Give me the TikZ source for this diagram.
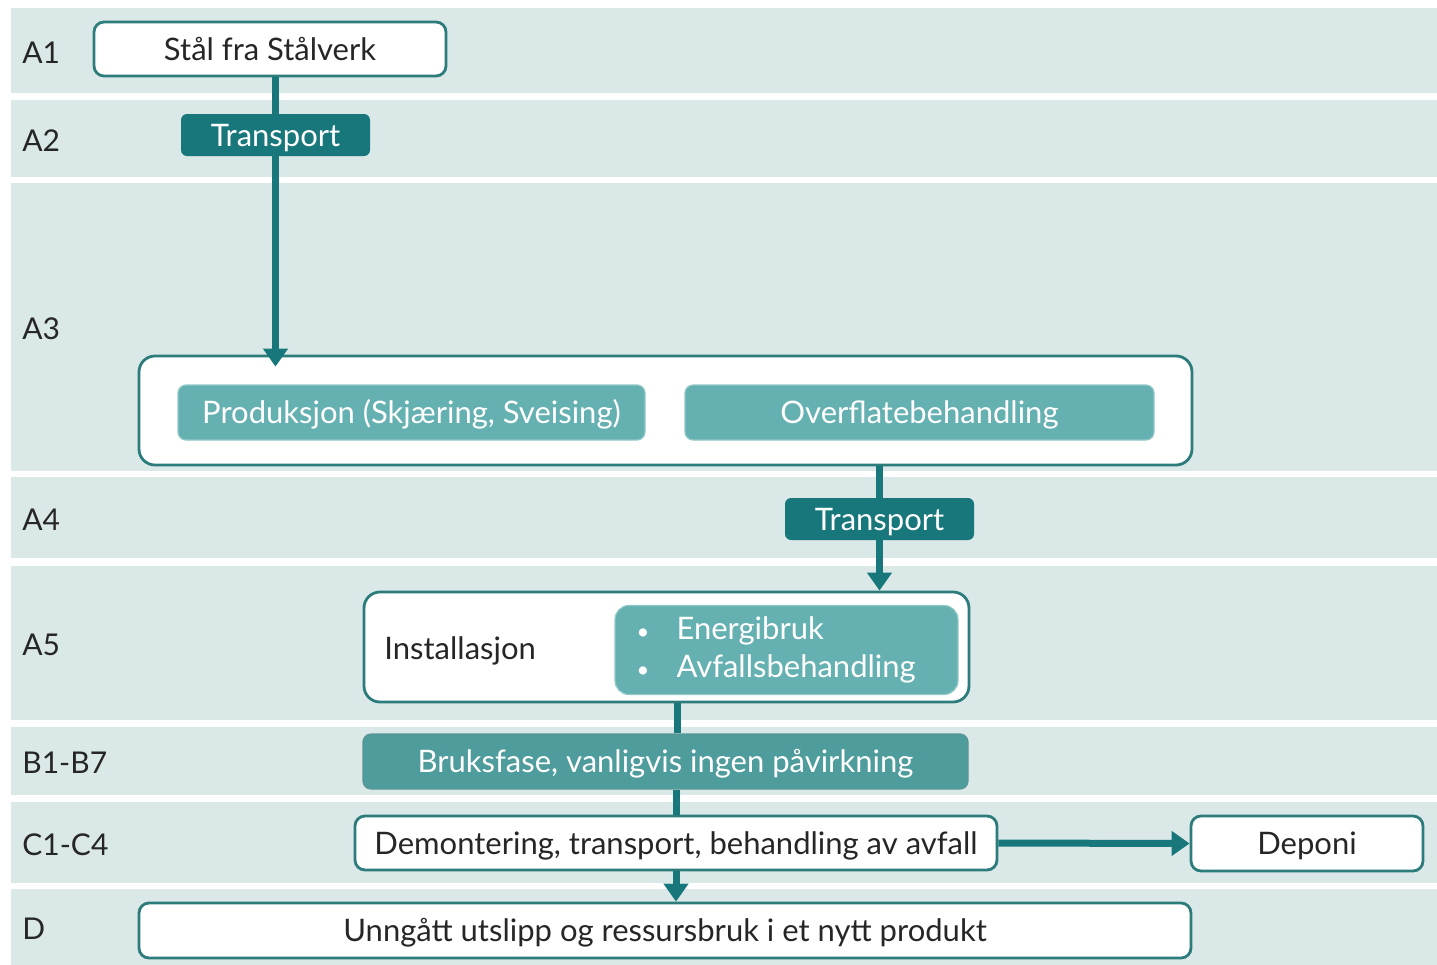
\documentclass[tikz,border=0pt]{standalone}
\usepackage{fontspec}
\setmainfont{Lato}
\usetikzlibrary{arrows.meta}
\definecolor{band}{HTML}{DAE8E8}
\definecolor{darkteal}{HTML}{17777A}
\definecolor{midteal}{HTML}{65B0B1}
\definecolor{usephase}{HTML}{4E9C9B}
\definecolor{boxline}{HTML}{2D7C7C}
\begin{document}
\begin{tikzpicture}[x=0.5pt,y=-0.5pt,
    rowlab/.style={anchor=west,inner sep=0pt,text=black!85,font=\fontsize{15}{18}\selectfont},
    boxtext/.style={inner sep=0pt,text height=13pt,text depth=2pt,font=\fontsize{15.5}{18}\selectfont},
    whitebox/.style={boxtext,draw=boxline,line width=1.4pt,fill=white,rounded corners=5pt,text=black!85},
    transbox/.style={boxtext,fill=darkteal,rounded corners=3pt,text=white,
      minimum width=94.5pt,minimum height=21pt},
    stepbox/.style={boxtext,fill=midteal,draw=midteal!70!white,line width=0.6pt,rounded corners=4pt,text=white},
    conn/.style={draw=darkteal,line width=3.5pt},
    arr/.style={conn,-{Triangle[width=12pt,length=9pt]}}]
\useasboundingbox (0,0) rectangle (1437,965);
% rows
\foreach \ytop/\ybot/\lab in {8/93/A1,100/177/A2,183/471/A3,477/558/A4,566/720/A5,727/795/B1-B7,802/883/C1-C4,889/965/D}{
  \fill[band] (11,\ytop) rectangle (1437,\ybot);
  \node[rowlab] (lab-\lab) at (22,{(\ytop+\ybot)/2+2}) {\lab};
}
% A1 - A3
\node[whitebox,minimum width=176pt,minimum height=27pt] (stal) at (270,49) {Stål fra Stålverk};
\node[transbox] (transA) at (275.5,135) {Transport};
\node[whitebox,rounded corners=8pt,minimum width=526.5pt,minimum height=54.5pt] (prodbox) at (665.5,410.5) {};
\node[stepbox,minimum width=233.5pt,minimum height=27.5pt] (prod) at (411.5,412.5) {Produksjon (Skjæring, Sveising)};
\node[stepbox,minimum width=234.5pt,minimum height=27.5pt] (overflate) at (919.5,412.5) {Overflatebehandling};
% A4 - A5
\node[transbox] (transB) at (879.5,519) {Transport};
\node[whitebox,rounded corners=8pt,minimum width=302.5pt,minimum height=55pt] (install) at (666.5,647) {};
\node[boxtext,anchor=west,text=black!85] (installtxt) at (384,648) {Installasjon};
\node[stepbox,text height=,text depth=,rounded corners=7pt,minimum width=171.5pt,minimum height=44.5pt,text width=150pt,align=left] (energi) at (786.5,650)
  {\makebox[20pt][l]{\fontsize{11}{11}\selectfont\textbullet}Energibruk\\[1pt]\makebox[20pt][l]{\fontsize{11}{11}\selectfont\textbullet}Avfallsbehandling};
% B, C, D
\node[stepbox,fill=usephase,draw=usephase!80!gray,minimum width=302.5pt,minimum height=27.5pt] (bruk) at (665.5,761.5) {Bruksfase, vanligvis ingen påvirkning};
\node[whitebox,minimum width=321pt,minimum height=27pt] (demont) at (676,843) {Demontering, transport, behandling av avfall};
\node[whitebox,minimum width=116pt,minimum height=27.5pt] (deponi) at (1307,843.5) {Deponi};
\node[whitebox,minimum width=526pt,minimum height=27.5pt] (unngaatt) at (665,930.5) {Unngått utslipp og ressursbruk i et nytt produkt};
\coordinate (midB) at (677,0);
% connectors
\draw[conn] (transA.north) -- (transA.north |- stal.south);
\draw[arr,shorten >=-6pt] (transA.south) -- (transA.south |- prodbox.north);
\draw[conn] (transB.north) -- (transB.north |- prodbox.south);
\draw[arr] (transB.south) -- (transB.south |- install.north);
\draw[conn] (install.south -| midB) -- (bruk.north -| midB);
\draw[conn] (demont.north) -- (demont.north |- bruk.south);
\draw[arr] (demont.south) -- (demont.south |- unngaatt.north);
\draw[arr] (demont.east) -- (deponi.west);
\end{tikzpicture}
\end{document}
